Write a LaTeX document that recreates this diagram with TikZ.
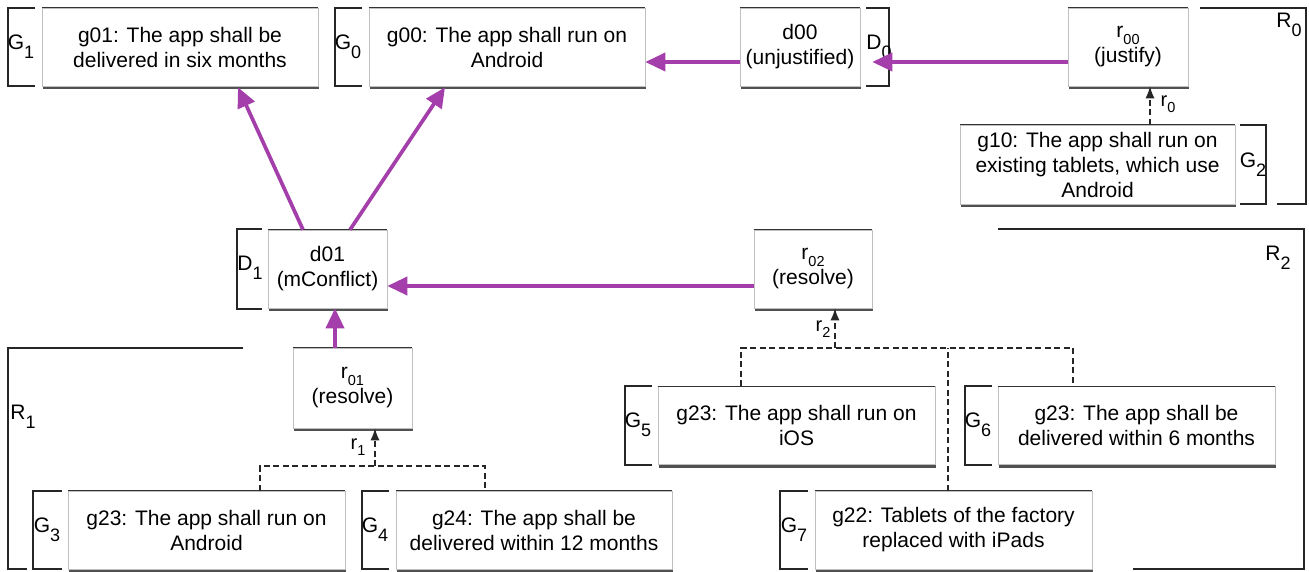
\documentclass[tikz,border=0pt]{standalone}
\usepackage{fontspec}
\setmainfont{Liberation Sans}
\usetikzlibrary{arrows.meta,shadows}
\definecolor{purp}{RGB}{163,62,170}
\newcommand\bsub[1]{\raisebox{-0.42em}{\fontsize{18}{18}\selectfont #1}}
\newcommand\ssub[1]{\raisebox{-0.3em}{\fontsize{14.5}{14.5}\selectfont #1}}
\begin{document}
\begin{tikzpicture}[x=1pt,y=-1pt,
  box/.style={fill=white, draw=black!25, line width=0.6pt, align=center, inner sep=0pt,
    minimum height=78pt, font=\fontsize{21}{25}\selectfont,
    drop shadow={shadow xshift=0.8pt, shadow yshift=-3pt, fill=black!80, opacity=0.85}},
  topedge/.style={draw=black!80, line width=0.9pt},
  brk/.style={draw=black!85, line width=1.1pt},
  lbl/.style={font=\fontsize{21}{21}\selectfont, inner sep=0pt},
  slbl/.style={font=\fontsize{20}{20}\selectfont, inner sep=0pt},
  parrow/.style={draw=purp, line width=3.7pt, -{Triangle[length=20pt,width=18pt]}},
  dline/.style={draw=black!85, line width=1.3pt, dash pattern=on 6pt off 3.5pt},
  darrow/.style={dline, -{Latex[length=12pt,width=9pt]}}]
\fill[white] (0,0) rectangle (1309,571);
\useasboundingbox (0,0) rectangle (1309,571);

% boxes
\node[box, minimum width=276pt] (g01) at (180,47) {g01: The app shall be\\delivered in six months};
\node[box, minimum width=276pt] (g00) at (507,47) {g00: The app shall run on\\Android};
\node[box, minimum width=120pt] (d00) at (800,47) {d00\\(unjustified)};
\node[box, minimum width=120pt] (r00) at (1128,47) {r\ssub{00}\\(justify)};
\node[box, minimum width=275pt, minimum height=79pt] (g10) at (1097.5,164.5) {g10: The app shall run on\\existing tablets, which use\\Android};
\node[box, minimum width=119pt] (d01) at (327.5,269) {d01\\(mConflict)};
\node[box, minimum width=118pt] (r02) at (813,269) {r\ssub{02}\\(resolve)};
\node[box, minimum width=119pt, minimum height=80pt] (r01) at (352.5,388) {r\ssub{01}\\(resolve)};
\node[box, minimum width=277pt] (g5) at (796.5,425.5) {g23: The app shall run on\\iOS};
\node[box, minimum width=277pt] (g6) at (1136.5,425.5) {g23: The app shall be\\delivered within 6 months};
\node[box, minimum width=277pt] (g3) at (206.5,530) {g23: The app shall run on\\Android};
\node[box, minimum width=276pt] (g4) at (534,530) {g24: The app shall be\\delivered within 12 months};
\node[box, minimum width=277pt] (g7) at (953.5,530) {g22: Tablets of the factory\\replaced with iPads};
\foreach \n in {g01,g00,d00,r00,g10,d01,r02,r01,g5,g6,g3,g4,g7}
  \draw[topedge] (\n.north west) -- (\n.north east);

% brackets
\draw[brk] (35,8) -- (8,8) -- (8,86) -- (35,86);
\node[lbl] (lG1) at (21,47) {G\bsub{1}};
\draw[brk] (362,8) -- (335,8) -- (335,86) -- (362,86);
\node[lbl] (lG0) at (348,47) {G\bsub{0}};
\draw[brk] (866,8) -- (889,8) -- (889,86) -- (866,86);
\node[lbl] (lD0) at (879,47) {D\bsub{0}};
\draw[brk] (1200,8) -- (1306,8) -- (1306,204) -- (1277,204);
\node[lbl] (lR0) at (1289,25) {R\bsub{0}};
\draw[brk] (1240,125) -- (1266,125) -- (1266,204) -- (1240,204);
\node[lbl] (lG2) at (1253,165) {G\bsub{2}};
\draw[brk] (262,229) -- (237,229) -- (237,309) -- (262,309);
\node[lbl] (lD1) at (250,268) {D\bsub{1}};
\draw[brk] (998,229) -- (1304,229) -- (1304,569) -- (1133,569);
\node[lbl] (lR2) at (1278,258) {R\bsub{2}};
\draw[brk] (243,348) -- (8,348) -- (8,569) -- (27,569);
\node[lbl] (lR1) at (23,417) {R\bsub{1}};
\draw[brk] (62,491) -- (33,491) -- (33,569) -- (62,569);
\node[lbl] (lG3) at (47,530) {G\bsub{3}};
\draw[brk] (389,491) -- (362,491) -- (362,569) -- (389,569);
\node[lbl] (lG4) at (375,530) {G\bsub{4}};
\draw[brk] (652,386) -- (625,386) -- (625,465) -- (652,465);
\node[lbl] (lG5) at (638,425) {G\bsub{5}};
\draw[brk] (992,386) -- (965,386) -- (965,465) -- (992,465);
\node[lbl] (lG6) at (978,425) {G\bsub{6}};
\draw[brk] (808,491) -- (780,491) -- (780,569) -- (808,569);
\node[lbl] (lG7) at (794,530) {G\bsub{7}};

% purple arrows
\draw[parrow] ([yshift=-15pt]d00.west) -- ([yshift=-15pt]g00.east);
\draw[parrow] ([yshift=-15pt]r00.west) -- ([xshift=12pt,yshift=-15pt]d00.east);
\draw[parrow] ([xshift=-24.5pt]d01.north) -- ([xshift=58pt,yshift=-1pt]g01.south);
\draw[parrow] ([xshift=22.5pt]d01.north) -- ([xshift=-62pt,yshift=-1pt]g00.south);
\draw[parrow] ([yshift=-17pt]r02.west) -- ([yshift=-17pt]d01.east);
\draw[parrow] ([xshift=-17.5pt]r01.north) -- ([xshift=7.5pt]d01.south);

% dashed links
\draw[darrow] ([xshift=52.5pt]g10.north) -- ([xshift=52.5pt]g10.north |- r00.south);
\node[slbl] (lr0) at (1168,104) {r\ssub{0}};

\coordinate (j1) at (375,466);
\draw[dline] ([xshift=53.5pt]g3.north) |- (j1) -| ([xshift=-49pt]g4.north);
\draw[darrow] (j1) -- (j1 |- r01.south);
\node[slbl] (lr1) at (358,447) {r\ssub{1}};

\coordinate (j2) at (835,348);
\draw[dline] ([xshift=-55.5pt]g5.north) |- (j2) -| ([xshift=-63.5pt]g6.north);
\draw[dline] ([xshift=-5.5pt]g7.north) -- ([xshift=-5.5pt]g7.north |- j2);
\draw[darrow] (j2) -- (j2 |- r02.south);
\node[slbl] (lr2) at (823,329) {r\ssub{2}};
\end{tikzpicture}
\end{document}
